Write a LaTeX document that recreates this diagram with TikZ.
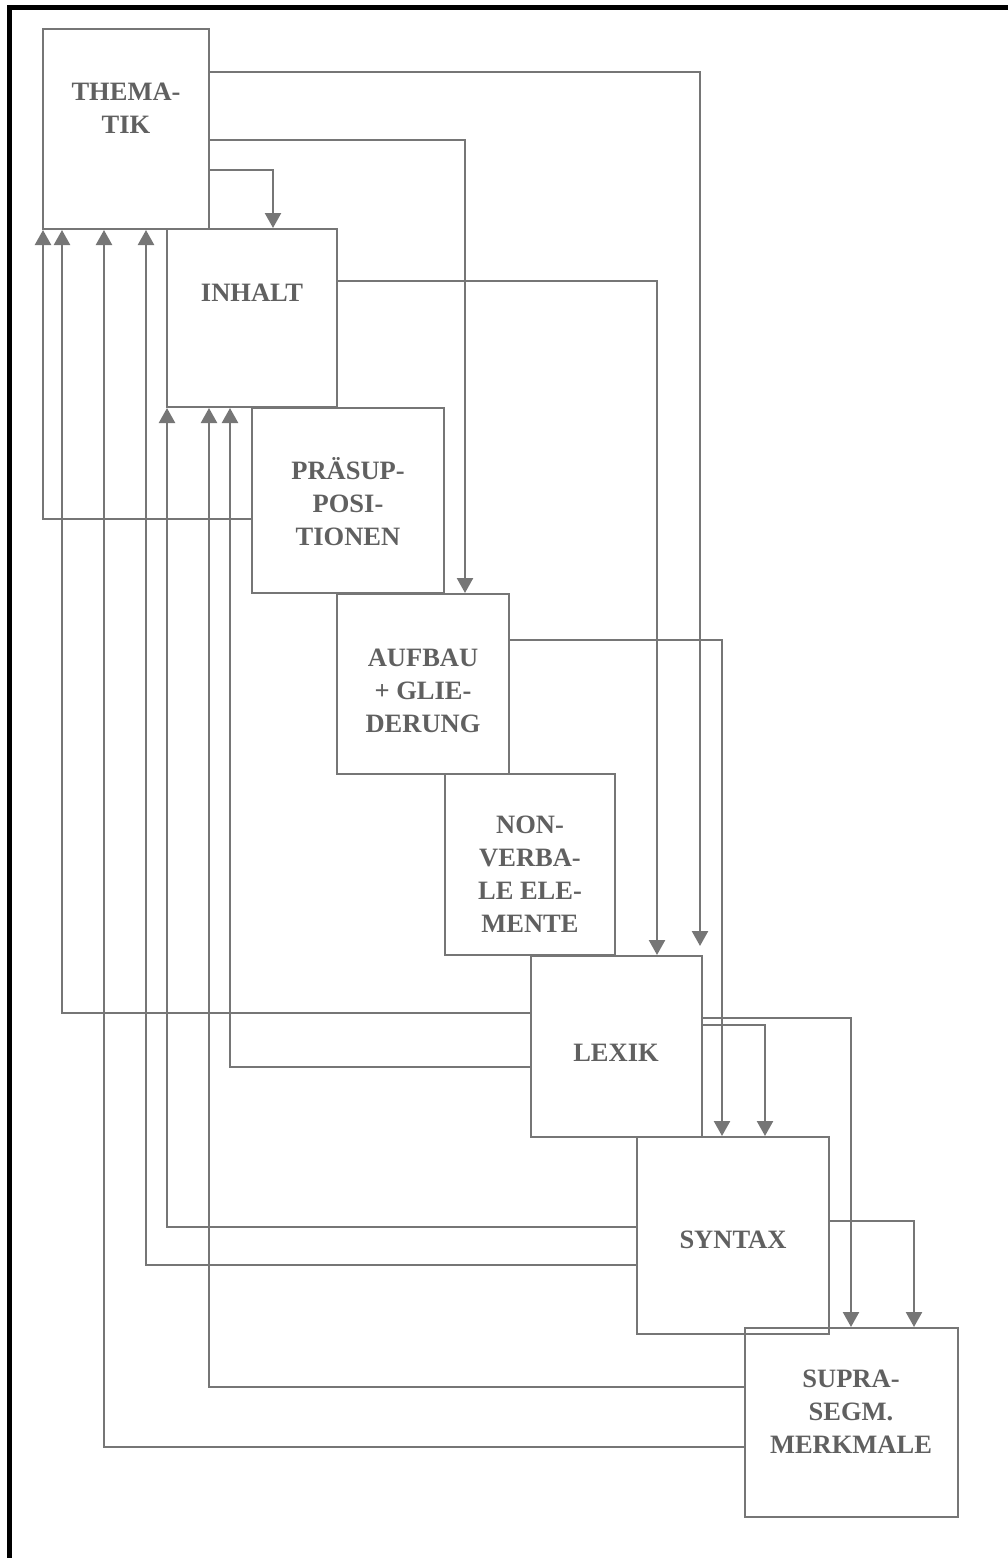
\documentclass[tikz,border=0pt]{standalone}
\usepackage{fontspec}
\setmainfont{Liberation Serif}
\usetikzlibrary{arrows.meta,calc}
\definecolor{linegray}{RGB}{118,118,118}
\definecolor{textgray}{RGB}{96,96,96}
\tikzset{
  box/.style={draw=linegray, line width=2pt, rectangle, inner sep=0pt},
  lbl/.style={text=textgray, align=center, inner sep=0pt,
    font=\fontsize{26.5}{33}\selectfont\bfseries},
  conn/.style={draw=linegray, line width=2.4pt,
    -{Triangle[width=16pt,length=15pt]}},
}
\begin{document}
\begin{tikzpicture}[x=1pt,y=-1pt]
\useasboundingbox (0,0) rectangle (1008,1558);
% frame
\draw[line width=5pt, black] (9.5,1558) -- (9.5,7.5) -- (1008,7.5);

% boxes
\node[box, minimum width=166pt, minimum height=200pt] (them) at (126,129) {};
\node[box, minimum width=170pt, minimum height=178pt] (inh) at (252,318) {};
\node[box, minimum width=192pt, minimum height=185pt] (pra) at (348,500.5) {};
\node[box, minimum width=172pt, minimum height=180pt] (auf) at (423,684) {};
\node[box, minimum width=170pt, minimum height=181pt] (non) at (530,864.5) {};
\node[box, minimum width=171pt, minimum height=181pt] (lex) at (616.5,1046.5) {};
\node[box, minimum width=192pt, minimum height=197pt] (syn) at (733,1235.5) {};
\node[box, minimum width=213pt, minimum height=189pt] (sup) at (851.5,1422.5) {};

% labels
\node[lbl] (themT) at (126,108) {THEMA-\\TIK};
\node[lbl] (inhT) at (252,293) {INHALT};
\node[lbl] (praT) at (348,502) {PRÄSUP-\\POSI-\\TIONEN};
\node[lbl] (aufT) at (423,691) {AUFBAU\\+ GLIE-\\DERUNG};
\node[lbl] (nonT) at (530,874) {NON-\\VERBA-\\LE ELE-\\MENTE};
\node[lbl] (lexT) at (616,1053) {LEXIK};
\node[lbl] (synT) at (733,1240) {SYNTAX};
\node[lbl] (supT) at (851,1412) {SUPRA-\\SEGM.\\MERKMALE};

% forward connectors
\draw[conn] (them.east |- 0,72) -| ($(lex.north east)+(-3,-9)$);
\draw[conn] (them.east |- 0,140) -| (auf.north -| 465,0);
\draw[conn] (them.east |- 0,170) -| (inh.north -| 273,0);
\draw[conn] (inh.east |- 0,281) -| (lex.north -| 657,0);
\draw[conn] (auf.east |- 0,640) -| (syn.north -| 722,0);
\draw[conn] (lex.east |- 0,1018) -| (sup.north -| 851,0);
\draw[conn] (lex.east |- 0,1025) -| (syn.north -| 765,0);
\draw[conn] (syn.east |- 0,1221) -| (sup.north -| 914,0);

% feedback connectors
\draw[conn] (pra.west |- 0,519) -| (them.south -| 43,0);
\draw[conn] (lex.west |- 0,1013) -| (them.south -| 62,0);
\draw[conn] (sup.west |- 0,1447) -| (them.south -| 104,0);
\draw[conn] (syn.west |- 0,1265) -| (them.south -| 146,0);
\draw[conn] (syn.west |- 0,1227) -| (inh.south -| 167,0);
\draw[conn] (sup.west |- 0,1387) -| (inh.south -| 209,0);
\draw[conn] (lex.west |- 0,1067) -| (inh.south -| 230,0);
\end{tikzpicture}
\end{document}
